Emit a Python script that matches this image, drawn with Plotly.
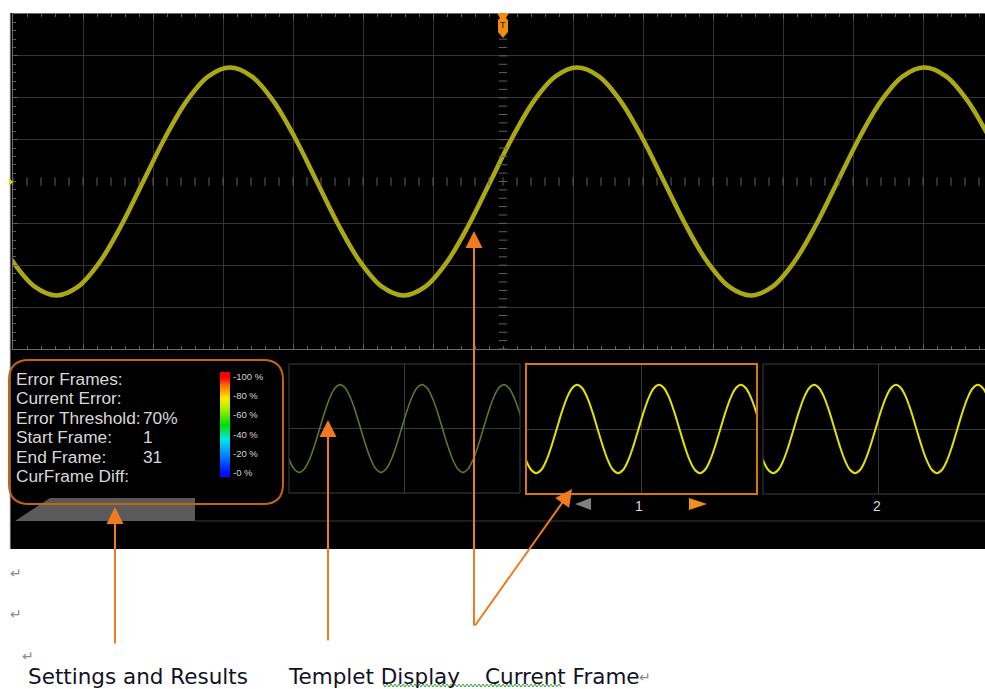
import numpy as np
import plotly.graph_objects as go

W, H = 985, 689


def fx(x):
    return x / W


def fy(y):
    return 1 - y / H


# ---------------- data ----------------
# waveform sample points (x, y in screen divisions; centre of screen = 0,0)
wave_x = [-7.62, -7.31, -7.00, -6.69, -6.38, -6.07, -5.76, -5.45, -5.14, -4.83,
          -4.52, -4.21, -3.90, -3.59, -3.28, -2.97, -2.66, -2.35, -2.04, -1.73,
          -1.42, -1.11, -0.80, -0.49, -0.18, 0.13, 0.44, 0.75, 1.06, 1.37,
          1.68, 1.99, 2.30, 2.61, 2.92, 3.23, 3.54, 3.85, 4.16, 4.47,
          4.78, 5.09, 5.40, 5.71, 6.02, 6.33, 6.64, 6.95, 7.26]
wave_y = [0.0, -1.04, -1.92, -2.51, -2.72, -2.51, -1.92, -1.04,
          0.0, 1.04, 1.92, 2.51, 2.72, 2.51, 1.92, 1.04,
          0.0, -1.04, -1.92, -2.51, -2.72, -2.51, -1.92, -1.04,
          0.0, 1.04, 1.92, 2.51, 2.72, 2.51, 1.92, 1.04,
          0.0, -1.04, -1.92, -2.51, -2.72, -2.51, -1.92, -1.04,
          0.0, 1.04, 1.92, 2.51, 2.72, 2.51, 1.92, 1.04,
          0.0]

panel_labels = ["Error Frames:", "Current Error:", "Error Threshold:",
                "Start Frame:", "End Frame:", "CurFrame Diff:"]
panel_values = ["", "", "70%", "1", "31", ""]
panel_rows_px = [379, 398, 418, 437, 457, 476]

scale_levels = [0, 20, 40, 60, 80, 100]
scale_labels = ["-0 %", "-20 %", "-40 %", "-60 %", "-80 %", "-100 %"]

frame_numbers = ["1", "2"]
callouts = ["Settings and Results", "Templet Display", "Current Frame"]

# ---------------- styles ----------------
GRID = "#343434"
TICK = "#606060"
ORANGE = "#f07a1e"
MAIN_WAVE = "#aba815"
TEMPLATE_WAVE = "#5f7626"
FRAME_WAVE = "#e6e200"
SMOOTH = 1.0

fig = go.Figure()

# main waveform
fig.add_trace(go.Scatter(x=wave_x, y=wave_y, mode="lines",
                         line=dict(color=MAIN_WAVE, width=4.5, shape="spline", smoothing=SMOOTH),
                         xaxis="x", yaxis="y", hoverinfo="skip"))

# centre cross of the graticule (dotted tick marks)
cx = np.round(np.arange(-7, 6.9, 0.2), 3)
cy = np.round(np.arange(-4, 4.01, 0.2), 3)
fig.add_trace(go.Scatter(x=cx, y=[0] * len(cx), mode="markers",
                         marker=dict(symbol="line-ns", size=6, line=dict(color=TICK, width=1)),
                         xaxis="x", yaxis="y", hoverinfo="skip"))
fig.add_trace(go.Scatter(x=[0] * len(cy), y=cy, mode="markers",
                         marker=dict(symbol="line-ew", size=6, line=dict(color=TICK, width=1)),
                         xaxis="x", yaxis="y", hoverinfo="skip"))

# thumbnails
fig.add_trace(go.Scatter(x=wave_x, y=wave_y, mode="lines",
                         line=dict(color=TEMPLATE_WAVE, width=1.6, shape="spline", smoothing=SMOOTH),
                         xaxis="x2", yaxis="y2", hoverinfo="skip"))
fig.add_trace(go.Scatter(x=wave_x, y=wave_y, mode="lines",
                         line=dict(color=FRAME_WAVE, width=2, shape="spline", smoothing=SMOOTH),
                         xaxis="x3", yaxis="y3", hoverinfo="skip"))
fig.add_trace(go.Scatter(x=wave_x, y=wave_y, mode="lines",
                         line=dict(color=FRAME_WAVE, width=2, shape="spline", smoothing=SMOOTH),
                         xaxis="x4", yaxis="y4", hoverinfo="skip"))

# error colour scale
fig.add_trace(go.Heatmap(z=[[v] for v in scale_levels], y=scale_levels, x=[0],
                         zmin=0, zmax=100, zsmooth="best", showscale=False,
                         colorscale=[[0, "#0010ff"], [0.2, "#0090ff"], [0.35, "#00e8e8"],
                                     [0.5, "#00e000"], [0.68, "#b0f000"], [0.78, "#ffe800"],
                                     [0.9, "#ff8000"], [1, "#ff0000"]],
                         xaxis="x5", yaxis="y5", hoverinfo="skip"))


def blank_axis(**kw):
    d = dict(showticklabels=False, zeroline=False, showline=False, ticks="",
             fixedrange=True)
    d.update(kw)
    return d


layout_axes = dict(
    xaxis=dict(domain=[fx(13), 1], range=[-7, (985 - 503) / 70], anchor="y",
               tickvals=[-6, -5, -4, -3, -2, -1, 1, 2, 3, 4, 5, 6],
               showgrid=True, gridcolor=GRID, gridwidth=1, zeroline=False,
               showticklabels=False, ticks="inside", ticklen=5, tickcolor=TICK,
               showline=True, linecolor="#6a6a6a", linewidth=1, mirror="allticks",
               minor=dict(dtick=0.2, tick0=0, ticks="inside", ticklen=3,
                          tickcolor=TICK, showgrid=False)),
    yaxis=dict(domain=[fy(349), fy(14)], range=[-4, 4], anchor="x",
               tickvals=[-3, -2, -1, 1, 2, 3],
               showgrid=True, gridcolor=GRID, gridwidth=1, zeroline=False,
               showticklabels=False, ticks="inside", ticklen=5, tickcolor=TICK,
               showline=True, linecolor="#6a6a6a", linewidth=1,
               minor=dict(dtick=0.2, tick0=0, ticks="inside", ticklen=3,
                          tickcolor=TICK, showgrid=False)),
    xaxis2=blank_axis(domain=[fx(289), fx(520)], range=[-7, 7], anchor="y2",
                      tickvals=[0], showgrid=True, gridcolor="#3a3a3a"),
    yaxis2=blank_axis(domain=[fy(493), fy(364)], range=[-4, 4], anchor="x2",
                      tickvals=[0], showgrid=True, gridcolor="#3a3a3a"),
    xaxis3=blank_axis(domain=[fx(526), fx(757)], range=[-7, 7], anchor="y3",
                      tickvals=[0], showgrid=True, gridcolor="#3a3a3a"),
    yaxis3=blank_axis(domain=[fy(494), fy(364)], range=[-4, 4], anchor="x3",
                      tickvals=[0], showgrid=True, gridcolor="#3a3a3a"),
    xaxis4=blank_axis(domain=[fx(763), 1], range=[-7, -7 + 14 * (985 - 763) / 231],
                      anchor="y4", tickvals=[0], showgrid=True, gridcolor="#3a3a3a"),
    yaxis4=blank_axis(domain=[fy(494), fy(364)], range=[-4, 4], anchor="x4",
                      tickvals=[0], showgrid=True, gridcolor="#3a3a3a"),
    xaxis5=blank_axis(domain=[fx(220), fx(230)], range=[-0.5, 0.5], anchor="y5",
                      showgrid=False),
    yaxis5=blank_axis(domain=[fy(477), fy(372)], range=[-5, 105], anchor="x5",
                      showgrid=False),
)


def P(x, y):
    return f"{fx(x):.5f},{fy(y):.5f}"


def rounded_rect(x0, y0, x1, y1, r):
    return (f"M {P(x0 + r, y0)} L {P(x1 - r, y0)} Q {P(x1, y0)} {P(x1, y0 + r)} "
            f"L {P(x1, y1 - r)} Q {P(x1, y1)} {P(x1 - r, y1)} "
            f"L {P(x0 + r, y1)} Q {P(x0, y1)} {P(x0, y1 - r)} "
            f"L {P(x0, y0 + r)} Q {P(x0, y0)} {P(x0 + r, y0)} Z")


def poly(pts):
    return "M " + " L ".join(P(x, y) for x, y in pts) + " Z"


shapes = [
    # black scope screen
    dict(type="rect", xref="paper", yref="paper", x0=fx(10), x1=1, y0=fy(549), y1=fy(13),
         fillcolor="black", line=dict(width=0), layer="below"),
    dict(type="line", xref="paper", yref="paper", x0=fx(10), x1=fx(10), y0=fy(549), y1=fy(13),
         line=dict(color="#c8c8c8", width=1), layer="below"),
    # tab + separator
    dict(type="path", xref="paper", yref="paper",
         path=poly([(15, 521), (50, 498), (195, 498), (195, 521)]),
         fillcolor="#5a5a5a", line=dict(width=0)),
    dict(type="line", xref="paper", yref="paper", x0=fx(195), x1=1, y0=fy(521), y1=fy(521),
         line=dict(color="#3a3a3a", width=1)),
    # settings panel
    dict(type="path", xref="paper", yref="paper", path=rounded_rect(9, 360, 283, 504, 20),
         line=dict(color="#c8620c", width=2)),
    # thumbnail frames
    dict(type="rect", xref="paper", yref="paper", x0=fx(289), x1=fx(520), y0=fy(493), y1=fy(364),
         line=dict(color="#3e3e3e", width=1)),
    dict(type="rect", xref="paper", yref="paper", x0=fx(763), x1=fx(1000), y0=fy(494), y1=fy(364),
         line=dict(color="#3e3e3e", width=1)),
    dict(type="rect", xref="paper", yref="paper", x0=fx(526), x1=fx(757), y0=fy(494), y1=fy(364),
         line=dict(color="#d7780c", width=2)),
    # navigation triangles
    dict(type="path", xref="paper", yref="paper", path=poly([(575, 504), (591, 498), (591, 510)]),
         fillcolor="#808080", line=dict(width=0)),
    dict(type="path", xref="paper", yref="paper", path=poly([(689, 498), (689, 510), (707, 504)]),
         fillcolor="#f0901a", line=dict(width=0)),
    # trigger position marker
    dict(type="path", xref="paper", yref="paper",
         path=poly([(497, 13), (509, 13), (506, 18), (508, 20), (508, 32), (503, 38),
                    (498, 32), (498, 20), (500, 18)]),
         fillcolor="#f08c10", line=dict(width=0)),
    # channel level marker
    dict(type="path", xref="paper", yref="paper",
         path=poly([(9, 178), (13, 182), (9, 186)]),
         fillcolor="#e0e000", line=dict(width=0)),
]

# green spell-check wavy underline
wav = []
xx = 383
k = 0
while xx <= 562:
    wav.append((xx, 684 if k % 2 == 0 else 687))
    xx += 2
    k += 1
shapes.append(dict(type="path", xref="paper", yref="paper",
                   path="M " + " L ".join(P(a, b) for a, b in wav),
                   line=dict(color="#3aa03a", width=1)))

annotations = []
PANEL_FONT = dict(family="Arial, Liberation Sans", size=17.3, color="#d8d8d8")
for lab, val, yy in zip(panel_labels, panel_values, panel_rows_px):
    annotations.append(dict(xref="paper", yref="paper", x=fx(14), y=fy(yy), text=lab,
                            showarrow=False, xanchor="left", yanchor="middle", font=PANEL_FONT))
    if val:
        annotations.append(dict(xref="paper", yref="paper", x=fx(141), y=fy(yy), text=val,
                                showarrow=False, xanchor="left", yanchor="middle", font=PANEL_FONT))

for lv, lab in zip(scale_levels, scale_labels):
    annotations.append(dict(xref="paper", yref="y5", x=fx(231), y=lv, text=lab,
                            showarrow=False, xanchor="left", yanchor="middle",
                            font=dict(family="Liberation Sans Narrow, Arial", size=9.5, color="#d4d4d4")))

for num, xpx in zip(frame_numbers, [639, 877]):
    annotations.append(dict(xref="paper", yref="paper", x=fx(xpx), y=fy(506), text=num,
                            showarrow=False, xanchor="center", yanchor="middle",
                            font=dict(family="Arial", size=14, color="#d8d8d8")))

annotations.append(dict(xref="paper", yref="paper", x=fx(503), y=fy(25), text="T",
                        showarrow=False, xanchor="center", yanchor="middle",
                        font=dict(family="Arial", size=9, color="#3a2000")))

LABEL_FONT = dict(family="DejaVu Sans", size=21.5, color="#121225")
for txt, xpx in zip(callouts, [26, 286, 483]):
    annotations.append(dict(xref="paper", yref="paper", x=fx(xpx), y=fy(676), text=txt,
                            showarrow=False, xanchor="left", yanchor="middle", font=LABEL_FONT))
for xpx, ypx in [(16, 573), (16, 614), (28, 656), (645, 677)]:
    annotations.append(dict(xref="paper", yref="paper", x=fx(xpx), y=fy(ypx), text="↵",
                            showarrow=False, xanchor="center", yanchor="middle",
                            font=dict(family="DejaVu Sans", size=14, color="#8a8a8a")))

# call-out arrows (tip, tail)
arrows = [((115, 507), (115, 645)),
          ((328, 420), (328, 642)),
          ((474, 231), (474, 627)),
          ((572, 489), (474, 627))]
for (tx, ty), (sx, sy) in arrows:
    annotations.append(dict(xref="paper", yref="paper", x=fx(tx), y=fy(ty),
                            ax=sx - tx, ay=sy - ty, text="", showarrow=True,
                            arrowhead=2, arrowsize=1.7, arrowwidth=2, arrowcolor=ORANGE,
                            standoff=0, startstandoff=0))

fig.update_layout(
    width=W, height=H, margin=dict(l=0, r=0, t=0, b=0),
    paper_bgcolor="white", plot_bgcolor="rgba(0,0,0,0)",
    showlegend=False, shapes=shapes, annotations=annotations,
    **layout_axes,
)

fig.write_html("out.html", config={"displayModeBar": False},
               post_script="document.body.style.margin='0px';document.body.style.overflow='hidden';")
